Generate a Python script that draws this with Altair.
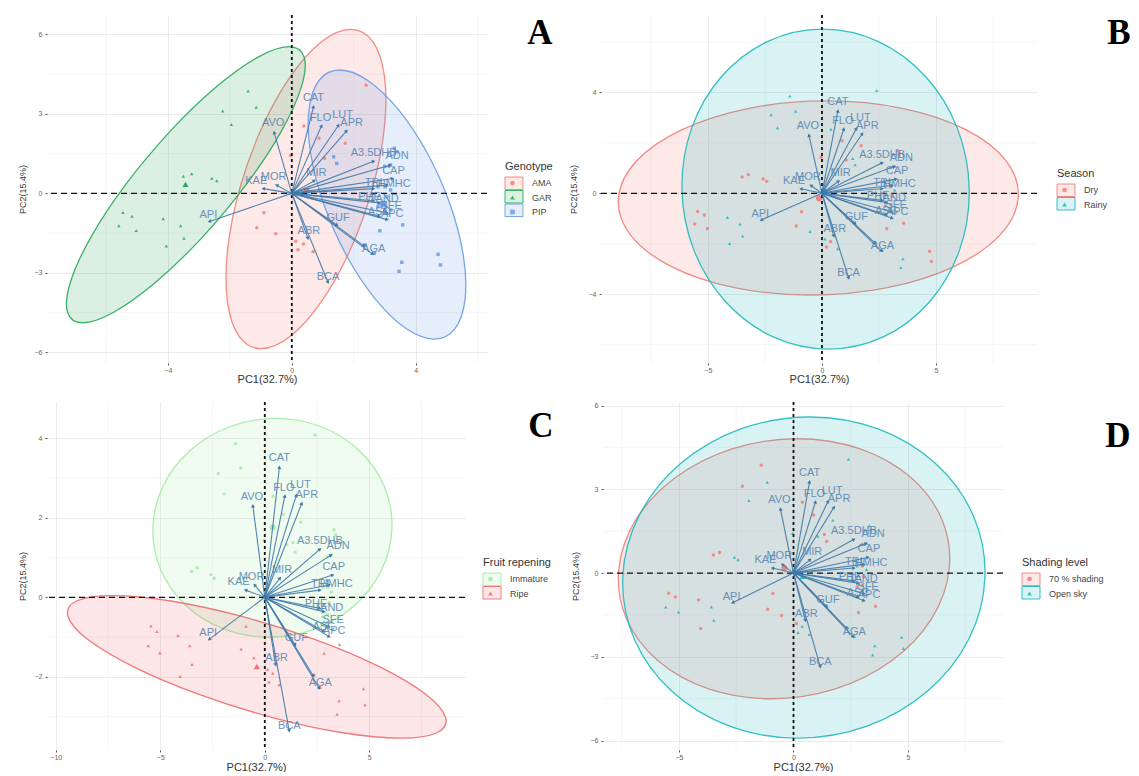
import math
import altair as alt
import pandas as pd

# ---------- samples ----------
sx = [-1.41,-1.15,-2.23,-1.95,-3.23,-3.50,-2.58,-2.42,-5.45,-5.16,-5.58,-5.02,-4.15,-3.59,-3.48,-4.05,
      2.40,0.39,0.88,1.72,-0.04,1.06,-0.90,-1.13,-0.52,0.13,0.38,0.20,0.69,
      1.35,1.45,3.31,3.39,3.19,3.00,2.84,3.58,4.72,4.80,3.55,3.46,2.37,2.66,
      2.78,3.01,3.19,3.07,2.84,3.01,3.19,2.78,3.01]
sy = [3.86,3.25,3.11,2.60,0.74,0.65,0.57,0.48,-0.72,-0.86,-1.22,-1.40,-0.96,-1.22,-1.69,-1.99,
      4.08,2.54,2.08,1.89,1.43,1.32,-0.73,-1.30,-1.52,-1.81,-1.91,-2.13,-2.20,
      1.38,1.13,1.70,1.57,1.07,1.02,-1.41,-1.19,-2.30,-2.70,-2.60,-2.94,-1.95,-2.26,
      0.25,0.25,0.13,-0.13,-0.38,-0.44,-0.63,-0.50,-0.63]
genotype = ["GAR"]*16 + ["AMA"]*13 + ["PIP"]*23
season = list("RRRRDDDDDDDDRRRR" "RRDDDDDDRRDDR" "RRDDRRDDDDRRRR" "RDRDRDRDR")
season = ["Rainy" if c == "R" else "Dry" for c in season]
ripening = list("IIIIIIIIPPPPPPPP" "IIIIIIPPPPPPP" "IIIIIIPPPPPPPP" "IIIIIIIII")
ripening = ["Immature" if c == "I" else "Ripe" for c in ripening]
shading = list("7O7O77OO77OO7OO7" "O77OOO7777OOO" "77OOO777OOOOOO" "O7O7O7O7O")
shading = ["70 % shading" if c == "7" else "Open sky" for c in shading]

samples = pd.DataFrame({"x": sx, "y": sy, "Genotype": genotype, "Season": season,
                        "Fruit repening": ripening, "Shading level": shading})

# ---------- loadings ----------
var_names = ["CAT","FLO","LUT","APR","AVO","A3.5DHB","ADN","CAP","HMHC","TRI","MIR","MOR","KAE",
             "PHE","TAND","SFE","ASC","APC","GUF","ABR","AGA","AGB","BCA","API"]
var_x = [0.70,0.96,1.51,1.77,-0.57,2.64,3.17,3.25,3.08,2.64,0.73,-0.49,-0.92,
         2.64,2.82,3.08,2.82,3.08,1.46,0.52,2.61,2.33,1.17,-2.66]
var_y = [3.27,2.55,2.57,2.36,2.30,1.21,1.06,0.56,0.31,0.18,0.48,0.31,0.18,
         -0.28,-0.36,-0.74,-0.86,-0.99,-1.20,-1.70,-2.29,-1.98,-3.36,-1.06]
lab_dx = [0,-1,4,5,-1,0,7,1,7,0,2,-3,-7,-4,5,4,0,5,1,1,1,0,0,-1]
lab_dy = [9,8,10,8,9,8,9,8,1,6,8,8,8,4,4,7,4,6,7,7,5,0,5,6]
lab_text = [n if n != "AGB" else "" for n in var_names]

# ---------- ellipse outlines ----------
ell = {
 "A": {
  "AMA": ([1.900,2.610,2.990,2.987,2.597,1.881,0.950,-0.056,-0.986,-1.696,-2.076,-2.073,-1.683,-0.967,-0.036,0.970],
          [6.189,5.731,4.424,2.472,0.164,-2.144,-4.096,-5.403,-5.861,-5.403,-4.096,-2.144,0.164,2.472,4.424,5.731]),
  "GAR": ([-0.093,0.399,0.307,-0.348,-1.474,-2.896,-4.395,-5.747,-6.745,-7.237,-7.145,-6.490,-5.364,-3.942,-2.443,-1.091],
          [5.535,5.139,4.009,2.322,0.327,-1.668,-3.355,-4.485,-4.881,-4.485,-3.355,-1.668,0.327,2.322,4.009,5.139]),
  "PIP": ([1.548,2.444,3.435,4.371,5.110,5.539,5.591,5.262,4.598,3.702,2.711,1.775,1.036,0.607,0.555,0.884],
          [4.654,4.268,3.167,1.523,-0.421,-2.365,-4.009,-5.110,-5.496,-5.110,-4.009,-2.365,-0.421,1.523,3.167,4.268]),
 },
 "B": {
  "Dry": ([0.192,3.522,6.286,8.074,8.606,7.806,5.790,2.874,-0.510,-3.840,-6.604,-8.392,-8.924,-8.124,-6.108,-3.192],
          [3.664,3.371,2.536,1.289,-0.185,-1.659,-2.906,-3.741,-4.034,-3.741,-2.906,-1.659,-0.185,1.289,2.536,3.371]),
  "Rainy": ([0.031,2.454,4.522,5.930,6.458,6.028,4.702,2.690,0.287,-2.136,-4.204,-5.612,-6.140,-5.710,-4.384,-2.372],
            [6.508,6.026,4.649,2.594,0.165,-2.264,-4.319,-5.696,-6.178,-5.696,-4.319,-2.264,0.165,2.594,4.649,6.026]),
 },
 "C": {
  "Immature": ([0.515,2.695,4.516,5.709,6.085,5.595,4.304,2.417,0.215,-1.965,-3.786,-4.979,-5.355,-4.865,-3.574,-1.687],
               [4.497,4.288,3.691,2.800,1.746,0.692,-0.199,-0.796,-1.005,-0.796,-0.199,0.692,1.746,2.800,3.691,4.288]),
  "Ripe": ([-7.270,-4.492,-1.089,2.420,5.505,7.696,8.649,8.236,6.504,3.726,0.323,-3.186,-6.271,-8.462,-9.415,-9.002],
           [0.042,-0.094,-0.483,-1.064,-1.750,-2.436,-3.017,-3.406,-3.542,-3.406,-3.017,-2.436,-1.750,-1.064,-0.483,-0.094]),
 },
 "D": {
  "70 % shading": ([0.158,2.878,5.092,6.473,6.802,6.035,4.284,1.822,-0.984,-3.704,-5.918,-7.299,-7.628,-6.861,-5.110,-2.648],
                   [4.814,4.460,3.449,1.939,0.155,-1.629,-3.139,-4.150,-4.504,-4.150,-3.139,-1.629,0.155,1.939,3.449,4.460]),
  "Open sky": ([0.714,3.723,6.229,7.860,8.361,7.660,5.859,3.239,0.190,-2.819,-5.325,-6.956,-7.457,-6.756,-4.955,-2.335],
               [5.592,5.155,3.906,2.042,-0.161,-2.364,-4.228,-5.477,-5.914,-5.477,-4.228,-2.364,-0.161,2.042,3.906,5.155]),
 },
}

means = {
 "A": (["AMA","GAR","PIP"], [0.49,-3.43,2.96], [0.09,0.34,-0.40]),
 "B": (["Dry","Rainy"], [-0.13,0.13], [-0.20,0.12]),
 "C": (["Immature","Ripe"], [0.38,-0.38], [1.76,-1.74]),
 "D": (["70 % shading","Open sky"], [-0.40,0.40], [0.18,-0.12]),
}

panels = {
 "A": dict(field="Genotype", groups=["AMA","GAR","PIP"], colors=["#F07F78","#27A85A","#6C9BE8"],
           shapes=["circle","triangle-up","square"], xd=[-7.9,6.3], yd=[-6.4,6.73], w=440, h=348,
           xmaj=[-4,0,4], xmin=[-6,-2,2,6], ymaj=[-6,-3,0,3,6], ymin=[-4.5,-1.5,1.5,4.5],
           legx=458, legy=146, letter=(493,18), tl=24, tp=0),
 "B": dict(field="Season", groups=["Dry","Rainy"], colors=["#F07F78","#1FB9BD"],
           shapes=["circle","triangle-up"], xd=[-9.69,9.43], yd=[-6.73,7.07], w=436, h=348,
           xmaj=[-5,0,5], xmin=[-7.5,-2.5,2.5,7.5], ymaj=[-4,0,4], ymin=[-6,-2,2,6],
           legx=456, legy=153, letter=(518,18), tl=27, tp=0),
 "C": dict(field="Fruit repening", groups=["Immature","Ripe"], colors=["#A3EBA3","#EE6C70"],
           shapes=["circle","triangle-up"], xd=[-10.42,9.58], yd=[-3.84,4.91], w=418, h=348,
           xmaj=[-10,-5,0,5], xmin=[-7.5,-2.5,2.5,7.5], ymaj=[-2,0,2,4], ymin=[-3,-1,1,3],
           legx=436, legy=155, letter=(494,24), tl=24, tp=1),
 "D": dict(field="Shading level", groups=["70 % shading","Open sky"], colors=["#F07F78","#1FB9BD"],
           shapes=["circle","triangle-up"], xd=[-8.32,9.15], yd=[-6.34,6.13], w=400, h=348,
           xmaj=[-5,0,5], xmin=[-7.5,-2.5,2.5,7.5], ymaj=[-6,-3,0,3,6], ymin=[-4.5,-1.5,1.5,4.5],
           legx=419, legy=155, letter=(515,34), tl=27, tp=1),
}

ARROW = "#3F78A8"
LABEL = "#5A88B4"
FONT = "Liberation Sans"


def panel(key):
    p = panels[key]
    xs = alt.Scale(domain=p["xd"], nice=False, zero=False)
    ys = alt.Scale(domain=p["yd"], nice=False, zero=False)
    kx = p["w"] / (p["xd"][1] - p["xd"][0])
    ky = p["h"] / (p["yd"][1] - p["yd"][0])

    xaxis = alt.Axis(values=p["xmaj"], title="PC1(32.7%)", grid=True, gridColor="#E6E6E6", gridWidth=0.8,
                     domain=False, tickSize=2, tickColor="#555555", labelColor="#666666", labelFontSize=7,
                     labelPadding=1, titleFontSize=11, titleFontWeight="normal", titleColor="#333333",
                     titlePadding=p["tp"], labelFont=FONT, titleFont=FONT, format="d")
    yaxis = alt.Axis(values=p["ymaj"], title="PC2(15.4%)", grid=True, gridColor="#E6E6E6", gridWidth=0.8,
                     domain=False, tickSize=2, tickColor="#555555", labelColor="#666666", labelFontSize=7,
                     labelPadding=3, titleFontSize=9, titleFontWeight="normal", titleColor="#333333",
                     titlePadding=p["tl"] - 17, labelFont=FONT, titleFont=FONT, format="d")

    def X(f):
        return alt.X(f, type="quantitative", scale=xs, axis=xaxis)

    def Y(f):
        return alt.Y(f, type="quantitative", scale=ys, axis=yaxis)

    layers = [
        alt.Chart(pd.DataFrame({"v": p["xmin"]})).mark_rule(color="#F0F0F0", strokeWidth=0.6).encode(x=X("v")),
        alt.Chart(pd.DataFrame({"v": p["ymin"]})).mark_rule(color="#F0F0F0", strokeWidth=0.6).encode(y=Y("v")),
    ]

    for g, c in zip(p["groups"], p["colors"]):
        ex, ey = ell[key][g]
        df = pd.DataFrame({"x": ex, "y": ey, "i": range(len(ex))})
        layers.append(alt.Chart(df).mark_line(interpolate="cardinal-closed", stroke=c, strokeWidth=1.3,
                                              fill=c, fillOpacity=0.17, strokeOpacity=0.9).encode(
            x=X("x"), y=Y("y"), order=alt.Order("i:Q")))

    cscale = alt.Scale(domain=p["groups"], range=p["colors"])
    sscale = alt.Scale(domain=p["groups"], range=p["shapes"])
    legend = alt.Legend(orient="none", legendX=p["legx"], legendY=p["legy"], title=p["field"],
                        titleFontSize=11, titleFontWeight="normal", titleColor="#333333", titleFont=FONT,
                        labelFontSize=9, labelColor="#444444", labelFont=FONT, symbolSize=22,
                        rowPadding=4.5, labelOffset=15, titlePadding=6.5, padding=0, symbolOffset=3)

    # legend key boxes
    for i, (g, c) in enumerate(zip(p["groups"], p["colors"])):
        top = p["legy"] + 16 + i * 13.5
        layers.append(alt.Chart(pd.DataFrame({"k": [g]})).mark_rect(
            fill=c, fillOpacity=0.17, stroke=c, strokeWidth=0.9).encode(
            x=alt.value(p["legx"]), x2=alt.value(p["legx"] + 18),
            y=alt.value(top), y2=alt.value(top + 12.5)))

    pts = samples.rename(columns={p["field"]: "group"})
    layers.append(alt.Chart(pts).mark_point(filled=True, opacity=0.85, size=12).encode(
        x=X("x"), y=Y("y"),
        color=alt.Color("group:N", scale=cscale, legend=legend),
        shape=alt.Shape("group:N", scale=sscale, legend=legend)))

    mg, mx, my = means[key]
    mdf = pd.DataFrame({"group": mg, "x": mx, "y": my})
    layers.append(alt.Chart(mdf).mark_point(filled=True, opacity=0.95, size=38).encode(
        x=X("x"), y=Y("y"),
        color=alt.Color("group:N", scale=cscale, legend=legend),
        shape=alt.Shape("group:N", scale=sscale, legend=legend)))

    zero = pd.DataFrame({"v": [0]})
    layers.append(alt.Chart(zero).mark_rule(color="#111111", strokeWidth=1.8, strokeDash=[3, 3]).encode(x=X("v")))
    layers.append(alt.Chart(zero).mark_rule(color="#111111", strokeWidth=1.3, strokeDash=[6, 4]).encode(y=Y("v")))

    v = pd.DataFrame({"name": var_names, "x": var_x, "y": var_y, "x0": 0.0, "y0": 0.0})
    v["ang"] = [(math.degrees(math.atan2(a * kx, b * ky)) + 360) % 360 for a, b in zip(var_x, var_y)]
    v["lx"] = [a + d / kx for a, d in zip(var_x, lab_dx)]
    v["ly"] = [b + d / ky for b, d in zip(var_y, lab_dy)]
    v["txt"] = lab_text

    layers.append(alt.Chart(v).mark_rule(color=ARROW, strokeWidth=1.1, opacity=0.9).encode(
        x=X("x0"), y=Y("y0"), x2="x:Q", y2="y:Q"))
    layers.append(alt.Chart(v).mark_point(filled=True, shape="triangle-up", size=16, color=ARROW, opacity=1).encode(
        x=X("x"), y=Y("y"), angle=alt.Angle("ang:Q", scale=None)))
    layers.append(alt.Chart(v).mark_text(fontSize=11, font=FONT, color=LABEL, opacity=0.9).encode(
        x=X("lx"), y=Y("ly"), text="txt:N"))

    layers.append(alt.Chart(pd.DataFrame({"t": [key]})).mark_text(
        font="Liberation Serif", fontWeight="bold", fontSize=35, color="#000000").encode(
        x=alt.value(p["letter"][0]), y=alt.value(p["letter"][1]), text="t:N"))

    return alt.layer(*layers).properties(width=p["w"], height=p["h"])


top = alt.hconcat(panel("A"), panel("B"), spacing=114, bounds="flush").resolve_scale(color="independent", shape="independent")
bottom = alt.hconcat(panel("C"), panel("D"), spacing=138, bounds="flush").resolve_scale(color="independent", shape="independent")
chart = alt.vconcat(top, bottom, spacing=17).resolve_scale(color="independent", shape="independent").properties(
    padding={"left": 10, "top": 6, "right": 0, "bottom": 0},
).configure_view(stroke=None)

chart.save("out.html", embed_options={"renderer": "svg", "actions": False})
